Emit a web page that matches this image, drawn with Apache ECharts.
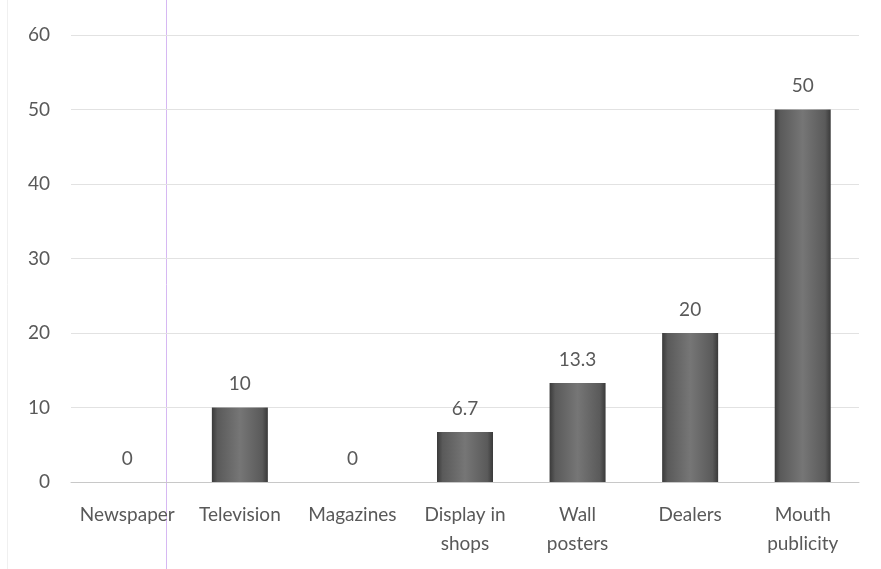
<!DOCTYPE html>
<html>
<head>
<meta charset="utf-8">
<script src="https://cdn.jsdelivr.net/npm/echarts@6/dist/echarts.min.js"></script>
<style>
  html, body { margin: 0; padding: 0; background: #ffffff; }
  #chart { width: 881px; height: 569px; }
</style>
</head>
<body>
<div id="chart"></div>
<script>
// Advertising sources and their share (%)
const categories = ['Newspaper', 'Television', 'Magazines', 'Display in\nshops', 'Wall\nposters', 'Dealers', 'Mouth\npublicity'];
const values = [0, 10, 0, 6.7, 13.3, 20, 50];
const yTicks = [0, 10, 20, 30, 40, 50, 60];

const chart = echarts.init(document.getElementById('chart'));
const font = 'Lato, "Open Sans", sans-serif';

const barFill = new echarts.graphic.LinearGradient(0, 0, 1, 0, [
  { offset: 0, color: '#3a3a3a' },
  { offset: 0.1, color: '#5a5a5a' },
  { offset: 0.5, color: '#767676' },
  { offset: 0.9, color: '#5a5a5a' },
  { offset: 1, color: '#3a3a3a' }
]);

chart.setOption({
  animation: false,
  backgroundColor: '#ffffff',
  grid: { left: 71, right: 22, top: 35, bottom: 87, containLabel: false },
  xAxis: {
    type: 'category',
    data: categories,
    axisTick: { show: false },
    axisLine: { lineStyle: { color: '#c8c8c8', width: 1 } },
    axisLabel: {
      color: '#595959', fontSize: 19, fontFamily: font,
      lineHeight: 29, margin: 18, interval: 0
    }
  },
  yAxis: {
    type: 'value',
    min: yTicks[0],
    max: yTicks[yTicks.length - 1],
    interval: 10,
    axisLine: { show: false },
    axisTick: { show: false },
    splitLine: { lineStyle: { color: '#e2e2e2', width: 1 } },
    axisLabel: { color: '#595959', fontSize: 19, fontFamily: font, margin: 21 }
  },
  series: [{
    type: 'bar',
    data: values,
    barWidth: 56,
    itemStyle: { color: barFill, borderWidth: 0 },
    label: {
      show: true, position: 'top', distance: 14,
      color: '#595959', fontSize: 19, fontFamily: font
    }
  }],
  graphic: [
    { type: 'line', shape: { x1: 166.5, y1: 0, x2: 166.5, y2: 569 },
      style: { stroke: '#d6b8f2', lineWidth: 1 } },
    { type: 'line', shape: { x1: 7.5, y1: 0, x2: 7.5, y2: 569 },
      style: { stroke: '#f0f0f0', lineWidth: 1 } }
  ]
});
</script>
</body>
</html>
